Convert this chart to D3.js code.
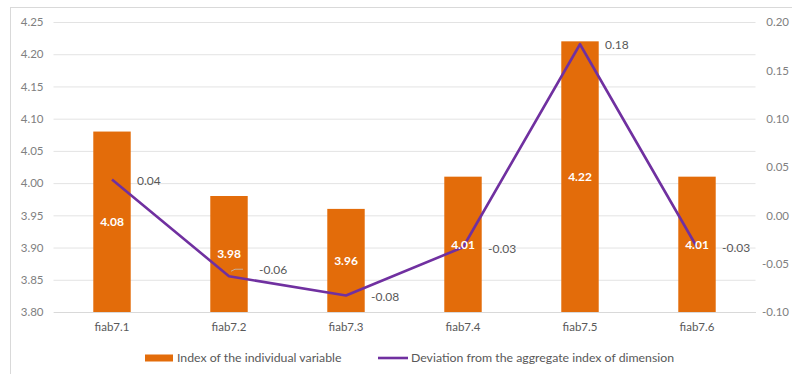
<!DOCTYPE html>
<html>
<head>
<meta charset="utf-8">
<script src="https://cdn.jsdelivr.net/npm/d3@7"></script>
<style>
  html, body { margin: 0; padding: 0; background: #fff; }
  svg { display: block; font-family: Lato, "Open Sans", sans-serif; }
</style>
</head>
<body>
<svg id="chart" width="792" height="374"></svg>
<script>
// Categories and series
const categories = ["fiab7.1", "fiab7.2", "fiab7.3", "fiab7.4", "fiab7.5", "fiab7.6"];
const indexValues = [4.08, 3.98, 3.96, 4.01, 4.22, 4.01];
const deviationValues = [0.037, -0.063, -0.083, -0.033, 0.177, -0.033];
const leftTicks = [3.80, 3.85, 3.90, 3.95, 4.00, 4.05, 4.10, 4.15, 4.20, 4.25];
const rightTicks = [-0.10, -0.05, 0.00, 0.05, 0.10, 0.15, 0.20];
const legendLabels = ["Index of the individual variable", "Deviation from the aggregate index of dimension"];

const barColor = "#E36C0A";
const lineColor = "#7030A0";

// Two-decimal format with a plain hyphen as the minus sign
const locale = d3.formatLocale({ decimal: ".", thousands: ",", grouping: [3], currency: ["", ""], minus: "-" });
const fmt = locale.format(".2f");

const svg = d3.select("#chart");

// Outer frame
svg.append("rect")
  .attr("x", 10.5).attr("y", 7.5)
  .attr("width", 800).attr("height", 400)
  .attr("fill", "#fff").attr("stroke", "#d9d9d9");

const plot = { left: 53.5, right: 755.5, top: 22, bottom: 312 };

const x = d3.scaleBand()
  .domain(categories)
  .range([plot.left, plot.right])
  .paddingInner(0.68)
  .paddingOuter(0.34);

const yL = d3.scaleLinear().domain([3.80, 4.25]).range([plot.bottom, plot.top]);
const yR = d3.scaleLinear().domain([-0.10, 0.20]).range([plot.bottom, plot.top]);

// Gridlines and left axis
const leftAxis = d3.axisLeft(yL)
  .tickValues(leftTicks)
  .tickFormat(fmt)
  .tickSize(-(plot.right - plot.left))
  .tickPadding(10);

const gL = svg.append("g")
  .attr("transform", `translate(${plot.left},0)`)
  .call(leftAxis);
gL.select(".domain").remove();
gL.selectAll(".tick line").attr("stroke", "#e3e3e3").attr("stroke-width", 1);
gL.selectAll(".tick text")
  .attr("fill", "#808080")
  .style("font-size", "11.5px")
  .style("font-family", "Lato, sans-serif");

// Right axis (labels only)
const rightAxis = d3.axisRight(yR)
  .tickValues(rightTicks)
  .tickFormat(fmt)
  .tickSize(0)
  .tickPadding(0);

const gR = svg.append("g")
  .attr("transform", `translate(789,0)`)
  .call(rightAxis);
gR.select(".domain").remove();
gR.selectAll(".tick text")
  .attr("text-anchor", "end")
  .attr("fill", "#808080")
  .style("font-size", "11.5px")
  .style("font-family", "Lato, sans-serif");

// Category axis
const bottomAxis = d3.axisBottom(x).tickSize(0).tickPadding(11);
const gB = svg.append("g")
  .attr("transform", `translate(0,${plot.bottom})`)
  .call(bottomAxis);
gB.select(".domain").attr("stroke", "#d9d9d9");
gB.selectAll(".tick text")
  .attr("fill", "#595959")
  .style("font-size", "11.5px")
  .style("font-family", "Lato, sans-serif");

// Bars
svg.append("g").selectAll("rect")
  .data(indexValues)
  .join("rect")
  .attr("x", (d, i) => x(categories[i]))
  .attr("width", x.bandwidth())
  .attr("y", d => yL(d))
  .attr("height", d => yL(3.80) - yL(d))
  .attr("fill", barColor);

// Line series
const cx = i => x(categories[i]) + x.bandwidth() / 2;
const line = d3.line()
  .x((d, i) => cx(i))
  .y(d => yR(d));

svg.append("path")
  .datum(deviationValues)
  .attr("d", line)
  .attr("fill", "none")
  .attr("stroke", lineColor)
  .attr("stroke-width", 2.6)
  .attr("stroke-linejoin", "round");

// Bar value labels, centred in each bar
svg.append("g").selectAll("text")
  .data(indexValues)
  .join("text")
  .attr("x", (d, i) => cx(i))
  .attr("y", d => (yL(d) + yL(3.80)) / 2)
  .attr("dy", "0.35em")
  .attr("text-anchor", "middle")
  .attr("fill", "#fff")
  .style("font-weight", "bold")
  .style("font-size", "12px")
  .style("font-family", "Lato, sans-serif")
  .text(d => fmt(d));

// Line value labels, to the right of each point
const labelShift = [1, -6, 1, 2, 1, 1];
svg.append("g").selectAll("text")
  .data(deviationValues)
  .join("text")
  .attr("x", (d, i) => cx(i) + (i === 1 ? 30 : 25))
  .attr("y", (d, i) => yR(d) + labelShift[i])
  .attr("dy", "0.35em")
  .attr("fill", "#595959")
  .style("font-size", "12px")
  .style("font-family", "Lato, sans-serif")
  .text(d => fmt(d));

// Small leader line for the displaced label
svg.append("path")
  .attr("d", `M${cx(1) + 2},${yR(deviationValues[1]) - 5} L${cx(1) + 6},${yR(deviationValues[1]) - 7} L${cx(1) + 14},${yR(deviationValues[1]) - 7}`)
  .attr("fill", "none")
  .attr("stroke", "#bfbfbf")
  .attr("stroke-width", 0.8);

// Legend
const legend = svg.append("g").attr("transform", "translate(0,358)");
legend.append("rect")
  .attr("x", 145).attr("y", -3.5)
  .attr("width", 28).attr("height", 7)
  .attr("fill", barColor);
legend.append("text")
  .attr("x", 177).attr("y", 0).attr("dy", "0.35em")
  .attr("fill", "#595959")
  .style("font-size", "12.3px")
  .style("font-family", "Lato, sans-serif")
  .text(legendLabels[0]);
legend.append("line")
  .attr("x1", 378).attr("x2", 408)
  .attr("y1", 0).attr("y2", 0)
  .attr("stroke", lineColor).attr("stroke-width", 2.6);
legend.append("text")
  .attr("x", 411).attr("y", 0).attr("dy", "0.35em")
  .attr("fill", "#595959")
  .style("font-size", "12.3px")
  .style("font-family", "Lato, sans-serif")
  .text(legendLabels[1]);
</script>
</body>
</html>
